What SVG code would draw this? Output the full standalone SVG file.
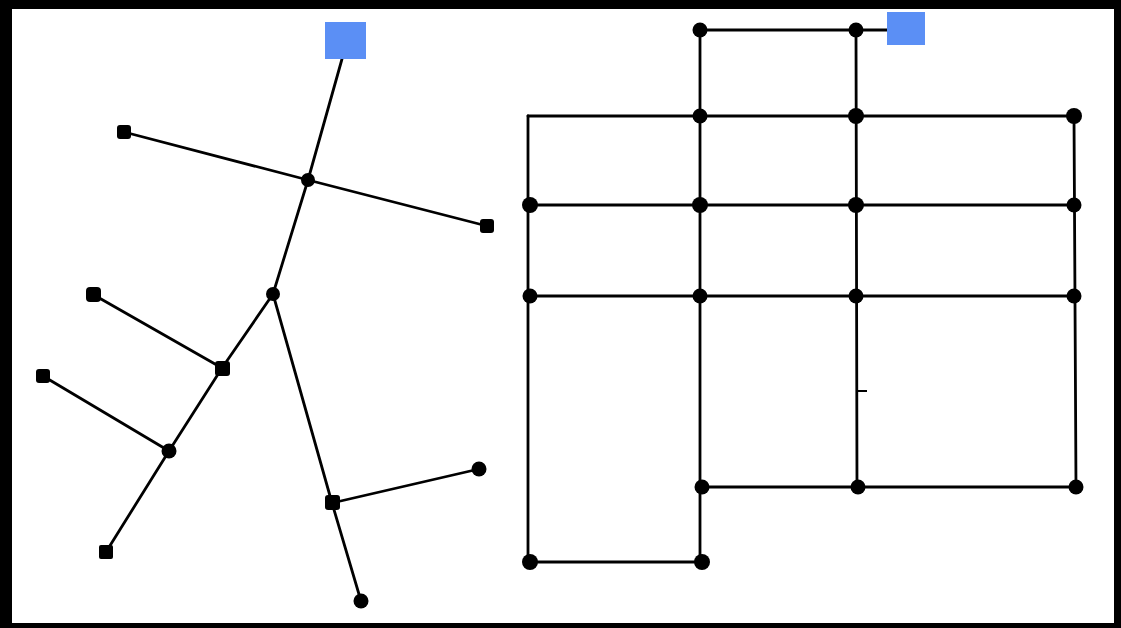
<svg xmlns="http://www.w3.org/2000/svg" width="1121" height="628" viewBox="0 0 1121 628">
<style>
.frame{fill:#000}
.paper{fill:#fff}
.src{fill:#5b8ff5}
.e{stroke:#000;stroke-width:2.8;fill:none;stroke-linecap:round}
.t{stroke:#000;stroke-width:2;fill:none}
.sq{fill:#000}
.dot{fill:#000}
</style>
<rect class="frame" x="0" y="0" width="1121" height="628"/>
<rect class="paper" x="12" y="9" width="1102" height="614"/>
<g id="connectors">
  <line class="e" x1="342" y1="59" x2="308" y2="180"/>
  <line class="e" x1="124" y1="132" x2="308" y2="180"/>
  <line class="e" x1="308" y1="180" x2="487" y2="226"/>
  <line class="e" x1="308" y1="180" x2="273" y2="294"/>
  <line class="e" x1="273" y1="294" x2="222" y2="368"/>
  <line class="e" x1="94" y1="295" x2="222" y2="368"/>
  <line class="e" x1="222" y1="368" x2="169" y2="451"/>
  <line class="e" x1="43" y1="376" x2="169" y2="451"/>
  <line class="e" x1="169" y1="451" x2="106" y2="552"/>
  <line class="e" x1="273" y1="294" x2="332" y2="503"/>
  <line class="e" x1="332" y1="503" x2="479" y2="469"/>
  <line class="e" x1="332" y1="503" x2="361" y2="601"/>
  <line class="e" x1="700" y1="30" x2="887" y2="30"/>
  <line class="e" x1="700" y1="30" x2="700" y2="562"/>
  <line class="e" x1="856" y1="30" x2="857" y2="487"/>
  <line class="e" x1="528" y1="116" x2="1074" y2="116"/>
  <line class="e" x1="528" y1="116" x2="528" y2="562"/>
  <line class="e" x1="530" y1="205" x2="1074" y2="205"/>
  <line class="e" x1="530" y1="296" x2="1074" y2="296"/>
  <line class="e" x1="1074" y1="116" x2="1076" y2="487"/>
  <line class="e" x1="702" y1="487" x2="1076" y2="487"/>
  <line class="e" x1="530" y1="562" x2="702" y2="562"/>
  <line class="t" x1="857" y1="391" x2="867" y2="391"/>
</g>
<g id="source-left"><rect class="src" x="325" y="22" width="41" height="37"/></g>
<g id="source-right"><rect class="src" x="887" y="12" width="38" height="33"/></g>
<g id="tree-nodes">
  <g id="nA"><circle class="dot" cx="308" cy="180" r="7"/></g>
  <g id="nB"><rect class="sq" x="117" y="125" width="14" height="14" rx="3"/></g>
  <g id="nC"><rect class="sq" x="480" y="219" width="14" height="14" rx="3"/></g>
  <g id="nD"><circle class="dot" cx="273" cy="294" r="7"/></g>
  <g id="nE"><rect class="sq" x="215" y="361" width="15" height="15" rx="3"/></g>
  <g id="nF"><rect class="sq" x="86" y="287" width="15" height="15" rx="4"/></g>
  <g id="nG"><circle class="dot" cx="169" cy="451" r="7.5"/></g>
  <g id="nH"><rect class="sq" x="36" y="369" width="14" height="14" rx="3"/></g>
  <g id="nI"><rect class="sq" x="99" y="545" width="14" height="14" rx="2"/></g>
  <g id="nJ"><rect class="sq" x="325" y="495" width="15" height="15" rx="3"/></g>
  <g id="nK"><circle class="dot" cx="479" cy="469" r="7.5"/></g>
  <g id="nL"><circle class="dot" cx="361" cy="601" r="7.5"/></g>
</g>
<g id="grid-nodes">
  <g id="g1"><circle class="dot" cx="700" cy="30" r="7.5"/></g>
  <g id="g2"><circle class="dot" cx="856" cy="30" r="7.5"/></g>
  <g id="g3"><circle class="dot" cx="700" cy="116" r="7.5"/></g>
  <g id="g4"><circle class="dot" cx="856" cy="116" r="8"/></g>
  <g id="g5"><circle class="dot" cx="1074" cy="116" r="8"/></g>
  <g id="g6"><circle class="dot" cx="530" cy="205" r="8"/></g>
  <g id="g7"><circle class="dot" cx="700" cy="205" r="8"/></g>
  <g id="g8"><circle class="dot" cx="856" cy="205" r="8"/></g>
  <g id="g9"><circle class="dot" cx="1074" cy="205" r="7.5"/></g>
  <g id="g10"><circle class="dot" cx="530" cy="296" r="7.5"/></g>
  <g id="g11"><circle class="dot" cx="700" cy="296" r="7.5"/></g>
  <g id="g12"><circle class="dot" cx="856" cy="296" r="7.5"/></g>
  <g id="g13"><circle class="dot" cx="1074" cy="296" r="7.5"/></g>
  <g id="g14"><circle class="dot" cx="702" cy="487" r="7.5"/></g>
  <g id="g15"><circle class="dot" cx="858" cy="487" r="7.5"/></g>
  <g id="g16"><circle class="dot" cx="1076" cy="487" r="7.5"/></g>
  <g id="g17"><circle class="dot" cx="530" cy="562" r="8"/></g>
  <g id="g18"><circle class="dot" cx="702" cy="562" r="8"/></g>
</g>
</svg>
